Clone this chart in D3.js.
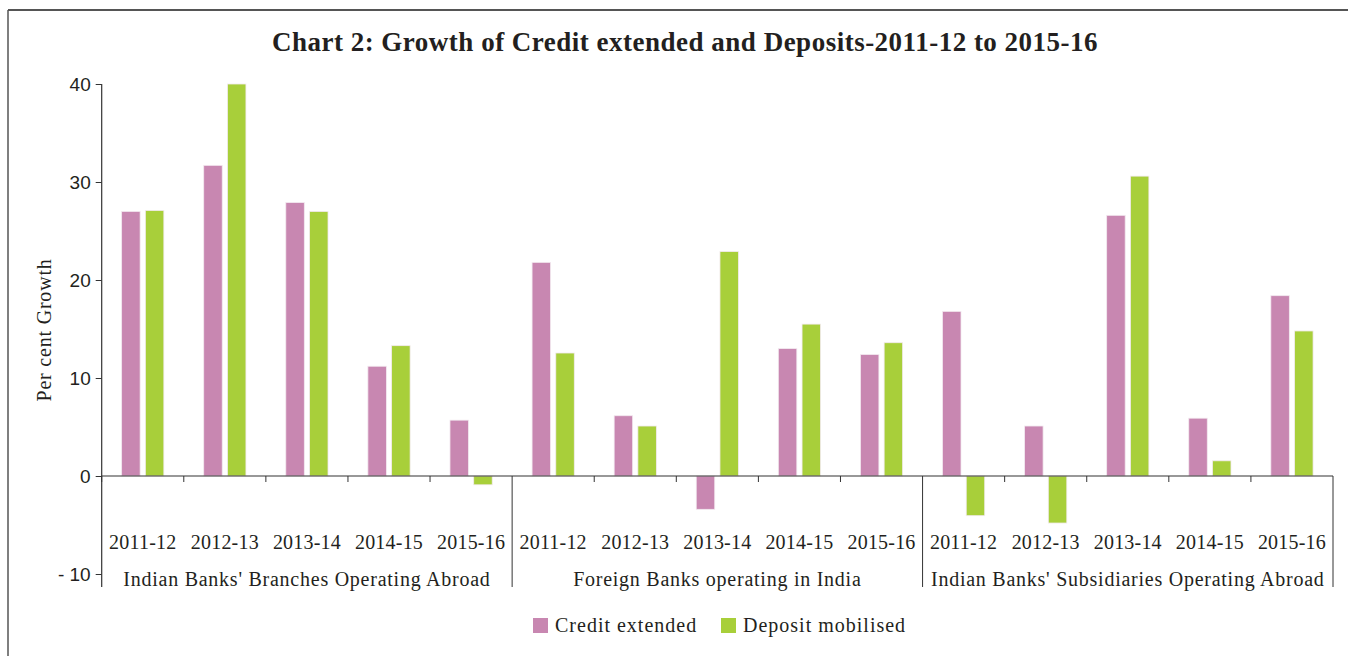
<!DOCTYPE html>
<html>
<head>
<meta charset="utf-8">
<script src="https://cdn.jsdelivr.net/npm/d3@7"></script>
<style>
  html, body { margin: 0; padding: 0; background: #fff; }
  svg { display: block; }
  text { font-family: "Liberation Serif", "DejaVu Serif", serif; fill: #231f20; }
</style>
</head>
<body>
<svg id="chart" width="1348" height="656"></svg>
<script>
const groups = ["Indian Banks' Branches Operating Abroad", "Foreign Banks operating in India", "Indian Banks' Subsidiaries Operating Abroad"];
const years = ["2011-12", "2012-13", "2013-14", "2014-15", "2015-16"];
const seriesNames = ["Credit extended", "Deposit mobilised"];
const creditValues = [27.0, 31.7, 27.9, 11.2, 5.7,  21.8, 6.15, -3.4, 13.0, 12.4,  16.8, 5.1, 26.6, 5.9, 18.4];
const depositValues = [27.1, 40.0, 27.0, 13.3, -0.9,  12.55, 5.1, 22.9, 15.5, 13.6,  -4.05, -4.8, 30.6, 1.55, 14.8];
const yTicks = [-10, 0, 10, 20, 30, 40];
const yTickLabels = ["-  10", "0", "10", "20", "30", "40"];
const colors = ["#c887b1", "#a8cf3a"];

const svg = d3.select("#chart");

// frame (top & left lines)
svg.append("line").attr("x1", 8).attr("x2", 1348).attr("y1", 10).attr("y2", 10).attr("stroke", "#555").attr("stroke-width", 2);
svg.append("line").attr("x1", 8).attr("x2", 8).attr("y1", 10).attr("y2", 656).attr("stroke", "#555").attr("stroke-width", 1.5);

// title
svg.append("text").attr("x", 685).attr("y", 51).attr("text-anchor", "middle")
  .style("font-size", "27px").style("font-weight", "bold").style("letter-spacing", "0.5px")
  .text("Chart 2: Growth of Credit extended and Deposits-2011-12 to 2015-16");

const cats = d3.range(groups.length * years.length);
const x0 = d3.scaleBand().domain(cats).range([101.7, 1333]).paddingInner(0).paddingOuter(0);
const x1 = d3.scaleBand().domain([0, 1]).range([0, x0.bandwidth()]).paddingInner(0.22).paddingOuter(0.84);
const y = d3.scaleLinear().domain([-10, 40]).range([574, 84]);

const data = cats.map(i => ({ i, vals: [creditValues[i], depositValues[i]] }));

// bars
const g = svg.append("g");
data.forEach(d => {
  d.vals.forEach((v, s) => {
    g.append("rect")
      .attr("x", x0(d.i) + x1(s))
      .attr("width", x1.bandwidth())
      .attr("y", y(Math.max(0, v)))
      .attr("height", Math.abs(y(v) - y(0)))
      .attr("fill", colors[s])
      .attr("stroke", "#f3eaf0").attr("stroke-width", 0.8);
  });
});

// y axis
const yAxis = d3.axisLeft(y).tickValues(yTicks).tickSize(6).tickFormat((d, i) => yTickLabels[i]);
const ya = svg.append("g").attr("transform", "translate(101.7,0)").call(yAxis);
ya.select(".domain").remove();
ya.selectAll(".tick line").attr("stroke", "#333");
ya.selectAll(".tick text").style("font-size", "19px").attr("x", -11).attr("dy", "0.34em")
  .style("font-family", "'Liberation Sans', 'DejaVu Sans', sans-serif").attr("fill", "#231f20");
svg.append("line").attr("x1", 101.7).attr("x2", 101.7).attr("y1", 84).attr("y2", 587).attr("stroke", "#333").attr("stroke-width", 1.2);

// x axis at zero
svg.append("line").attr("x1", 101.7).attr("x2", 1333).attr("y1", y(0)).attr("y2", y(0)).attr("stroke", "#333").attr("stroke-width", 1.2);
cats.forEach(i => {
  const xs = x0(i) + x0.bandwidth();
  const major = (i + 1) % years.length === 0;
  svg.append("line").attr("x1", xs).attr("x2", xs).attr("y1", y(0)).attr("y2", major ? 587 : y(0) + 6)
    .attr("stroke", "#333").attr("stroke-width", 1);
});
svg.append("line").attr("x1", 101.7).attr("x2", 101.7).attr("y1", y(0)).attr("y2", y(0) + 6).attr("stroke", "#333");

// year labels
cats.forEach(i => {
  svg.append("text").attr("x", x0(i) + x0.bandwidth() / 2).attr("y", 549).attr("text-anchor", "middle")
    .style("font-size", "20px").style("letter-spacing", "0.2px").text(years[i % years.length]);
});
// group labels
groups.forEach((gName, k) => {
  const xa = x0(k * years.length), xb = x0(k * years.length + years.length - 1) + x0.bandwidth();
  svg.append("text").attr("x", (xa + xb) / 2).attr("y", 586).attr("text-anchor", "middle")
    .style("font-size", "20px").style("letter-spacing", "0.75px").text(gName);
});

// y axis title
svg.append("text").attr("transform", "translate(51,330) rotate(-90)").attr("text-anchor", "middle")
  .style("font-size", "20px").style("letter-spacing", "0.8px").text("Per cent Growth");

// legend
const legendX = [533, 721];
seriesNames.forEach((n, s) => {
  svg.append("rect").attr("x", legendX[s]).attr("y", 618).attr("width", 15).attr("height", 15).attr("fill", colors[s]);
  svg.append("text").attr("x", legendX[s] + 22).attr("y", 632).style("font-size", "20px").style("letter-spacing", "1px").text(n);
});
</script>
</body>
</html>
